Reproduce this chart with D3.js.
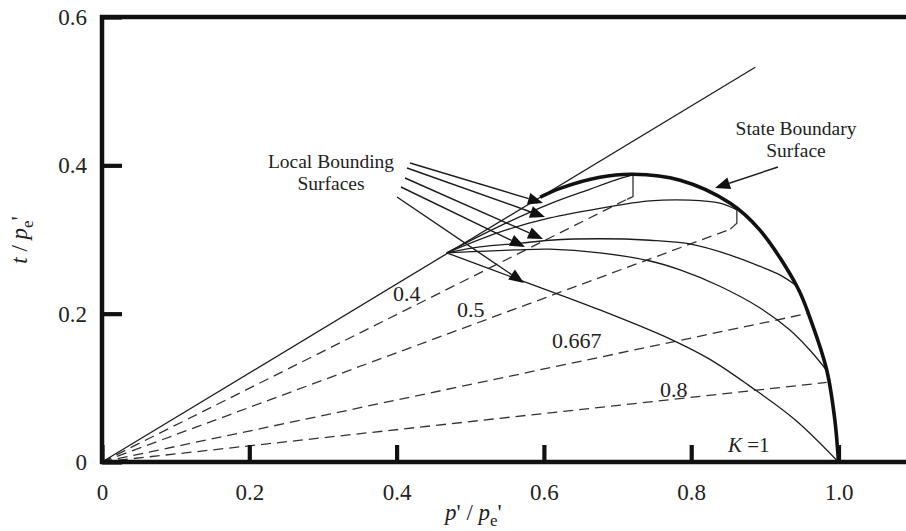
<!DOCTYPE html>
<html>
<head>
<meta charset="utf-8">
<script src="https://cdn.jsdelivr.net/npm/d3@7"></script>
<style>
  html, body { margin: 0; padding: 0; background: #fff; }
  svg { display: block; font-family: "Liberation Serif", "Times New Roman", serif; }
</style>
</head>
<body>
<svg id="chart" width="906" height="531"></svg>
<script>
// ---- axis ticks ----
const xTicks = [0, 0.2, 0.4, 0.6, 0.8, 1.0];
const xTickLabels = ["0", "0.2", "0.4", "0.6", "0.8", "1.0"];
const yTicks = [0, 0.2, 0.4, 0.6];
const yTickLabels = ["0", "0.2", "0.4", "0.6"];

// ---- critical state line t = 0.6 p' ----
const cslSlope = 0.6;
const cslEnd = 0.887;

// ---- state boundary surface [p'/pe', t/pe'] ----
const stateBoundary = [
  [0.595, 0.357], [0.622, 0.369], [0.676, 0.384], [0.721, 0.388],
  [0.785, 0.380], [0.853, 0.349], [0.893, 0.313], [0.944, 0.236],
  [0.961, 0.195], [0.984, 0.124], [0.995, 0.057], [1.0, 0.0]
];

// ---- local bounding surfaces ----
const lbsA = [
  [0.468, 0.282], [0.540, 0.318], [0.608, 0.348], [0.663, 0.368],
  [0.697, 0.380], [0.721, 0.387]
];
const lbsB = [
  [0.468, 0.282], [0.540, 0.310], [0.608, 0.329], [0.676, 0.342],
  [0.744, 0.352], [0.798, 0.353], [0.839, 0.349], [0.862, 0.340]
];
const lbsC = [
  [0.468, 0.282], [0.513, 0.290], [0.568, 0.295], [0.608, 0.299],
  [0.676, 0.301], [0.744, 0.299], [0.798, 0.294], [0.853, 0.279],
  [0.893, 0.264], [0.921, 0.252], [0.944, 0.237]
];
const lbsD = [
  [0.468, 0.282], [0.513, 0.284], [0.563, 0.286], [0.608, 0.287],
  [0.676, 0.282], [0.744, 0.271], [0.785, 0.259], [0.839, 0.237],
  [0.893, 0.208], [0.934, 0.178], [0.961, 0.151], [0.986, 0.121]
];
const lbsE = [
  [0.468, 0.282], [0.563, 0.247], [0.676, 0.205], [0.771, 0.166],
  [0.826, 0.138], [0.880, 0.102], [0.941, 0.057], [1.0, 0.0]
];

// ---- constant-K stress paths (t/p' ratio, end p'/pe') ----
const kLabels = ["0.4", "0.5", "0.667", "0.8"];
const kRatios = [0.497, 0.368, 0.209, 0.109];
const kEnds = [0.713, 0.853, 0.961, 0.984];
// short solid links from path ends up to the surface
const hooks = [
  [[0.713, 0.354], [0.721, 0.358], [0.721, 0.386]],
  [[0.853, 0.314], [0.862, 0.322], [0.862, 0.340]]
];

// ---- layout ----
const W = 906, H = 531;
const x = d3.scaleLinear().domain([0, 1]).range([102, 838.5]);
const y = d3.scaleLinear().domain([0, 0.6]).range([462, 17]);
const ink = "#1c1c1c";

const svg = d3.select("#chart");
svg.append("rect").attr("width", W).attr("height", H).attr("fill", "#fff");

const line = d3.line().x(d => x(d[0])).y(d => y(d[1]));
const smooth = d3.line().x(d => x(d[0])).y(d => y(d[1])).curve(d3.curveCatmullRom.alpha(0.5));

// constant-K dashed paths
const kData = kLabels.map((k, i) => ({ k, ratio: kRatios[i], end: kEnds[i] }));
svg.append("g").selectAll("path").data(kData).join("path")
  .attr("d", d => line([[0, 0], [d.end, d.end * d.ratio]]))
  .attr("fill", "none").attr("stroke", "#333").attr("stroke-width", 1.3)
  .attr("stroke-dasharray", "10,6");

svg.append("g").selectAll("path").data(hooks).join("path")
  .attr("d", line)
  .attr("fill", "none").attr("stroke", "#333").attr("stroke-width", 1.3);

// critical state line
svg.append("path")
  .attr("d", line([[0, 0], [cslEnd, cslEnd * cslSlope]]))
  .attr("fill", "none").attr("stroke", ink).attr("stroke-width", 1.3);

// local bounding surfaces
svg.append("g").selectAll("path").data([lbsA, lbsB, lbsC, lbsD, lbsE]).join("path")
  .attr("d", smooth)
  .attr("fill", "none").attr("stroke", ink).attr("stroke-width", 1.3);

// state boundary surface
svg.append("path")
  .attr("d", smooth(stateBoundary))
  .attr("fill", "none").attr("stroke", "#111").attr("stroke-width", 3.6);

// ---- frame and ticks ----
const frame = svg.append("g").attr("stroke", "#111").attr("stroke-width", 4.5).attr("fill", "none");
frame.append("line").attr("x1", x(0)).attr("x2", x(0)).attr("y1", y(0.6) - 2).attr("y2", y(0) + 2);
frame.append("line").attr("x1", x(0) - 2).attr("x2", W).attr("y1", y(0)).attr("y2", y(0));
frame.append("line").attr("x1", x(0) - 2).attr("x2", W).attr("y1", y(0.6)).attr("y2", y(0.6));

const xAxis = d3.axisBottom(x).tickValues(xTicks)
  .tickFormat((d, i) => xTickLabels[i]).tickSize(-17).tickSizeOuter(0).tickPadding(22);
const gx = svg.append("g").attr("transform", `translate(0,${y(0)})`).call(xAxis);
gx.select(".domain").remove();
gx.selectAll(".tick line").attr("stroke", "#111").attr("stroke-width", 4.2);
gx.selectAll(".tick text").attr("font-size", 23).attr("fill", "#222")
  .attr("font-family", "Liberation Serif, serif");

const yAxis = d3.axisLeft(y).tickValues(yTicks)
  .tickFormat((d, i) => yTickLabels[i]).tickSize(-20).tickSizeOuter(0).tickPadding(15);
const gy = svg.append("g").attr("transform", `translate(${x(0)},0)`).call(yAxis);
gy.select(".domain").remove();
gy.selectAll(".tick line").attr("stroke", "#111").attr("stroke-width", 4.2);
gy.selectAll(".tick text").attr("font-size", 23).attr("fill", "#222")
  .attr("font-family", "Liberation Serif, serif");

// ---- axis titles ----
const xt = svg.append("text").attr("x", 445).attr("y", 520)
  .attr("font-size", 23).attr("fill", "#222");
xt.append("tspan").attr("font-style", "italic").text("p");
xt.append("tspan").text("' / ");
xt.append("tspan").attr("font-style", "italic").text("p");
xt.append("tspan").attr("font-size", 17).attr("dy", 6).text("e");
xt.append("tspan").attr("dy", -6).text("'");

const yt = svg.append("text").attr("transform", "translate(27,240) rotate(-90)")
  .attr("text-anchor", "middle").attr("font-size", 23).attr("fill", "#222");
yt.append("tspan").attr("font-style", "italic").text("t");
yt.append("tspan").text(" / ");
yt.append("tspan").attr("font-style", "italic").text("p");
yt.append("tspan").attr("font-size", 17).attr("dy", 6).text("e");
yt.append("tspan").attr("dy", -6).text("'");

// ---- K labels on the stress paths ----
const kLabelPos = [[393, 301], [457, 317], [552, 348], [660, 397]];
svg.append("g").selectAll("text").data(kData).join("text")
  .attr("x", (d, i) => kLabelPos[i][0]).attr("y", (d, i) => kLabelPos[i][1])
  .attr("font-size", 22).attr("fill", "#222").text(d => d.k);

const kOne = svg.append("text").attr("x", 728).attr("y", 452).attr("font-size", 21).attr("fill", "#222");
kOne.append("tspan").attr("font-style", "italic").text("K");
kOne.append("tspan").text(" =1");

// ---- annotations ----
function arrow(g, from, tip, len = 15, half = 6) {
  const dx = tip[0] - from[0], dy = tip[1] - from[1];
  const L = Math.hypot(dx, dy), ux = dx / L, uy = dy / L;
  const bx = tip[0] - ux * len, by = tip[1] - uy * len;
  g.append("line").attr("x1", from[0]).attr("y1", from[1]).attr("x2", bx).attr("y2", by)
    .attr("stroke", ink).attr("stroke-width", 1.4);
  g.append("path")
    .attr("d", `M${tip[0]},${tip[1]}L${bx - uy * half},${by + ux * half}L${bx + uy * half},${by - ux * half}Z`)
    .attr("fill", "#111");
}

const ann = svg.append("g");
const lbsLeaders = [
  [[410, 163], [543, 203]],
  [[407, 168], [545, 217]],
  [[405, 178], [543, 239]],
  [[401, 187], [525, 247]],
  [[397, 197], [524, 283]]
];
lbsLeaders.forEach(l => arrow(ann, l[0], l[1]));
arrow(ann, [778, 167], [715, 188]);

const txt = svg.append("g").attr("font-size", 19.5).attr("fill", "#222").attr("text-anchor", "middle");
txt.append("text").attr("x", 331).attr("y", 168).text("Local Bounding");
txt.append("text").attr("x", 331).attr("y", 190).text("Surfaces");
txt.append("text").attr("x", 796).attr("y", 135).text("State Boundary");
txt.append("text").attr("x", 796).attr("y", 157).text("Surface");
</script>
</body>
</html>
